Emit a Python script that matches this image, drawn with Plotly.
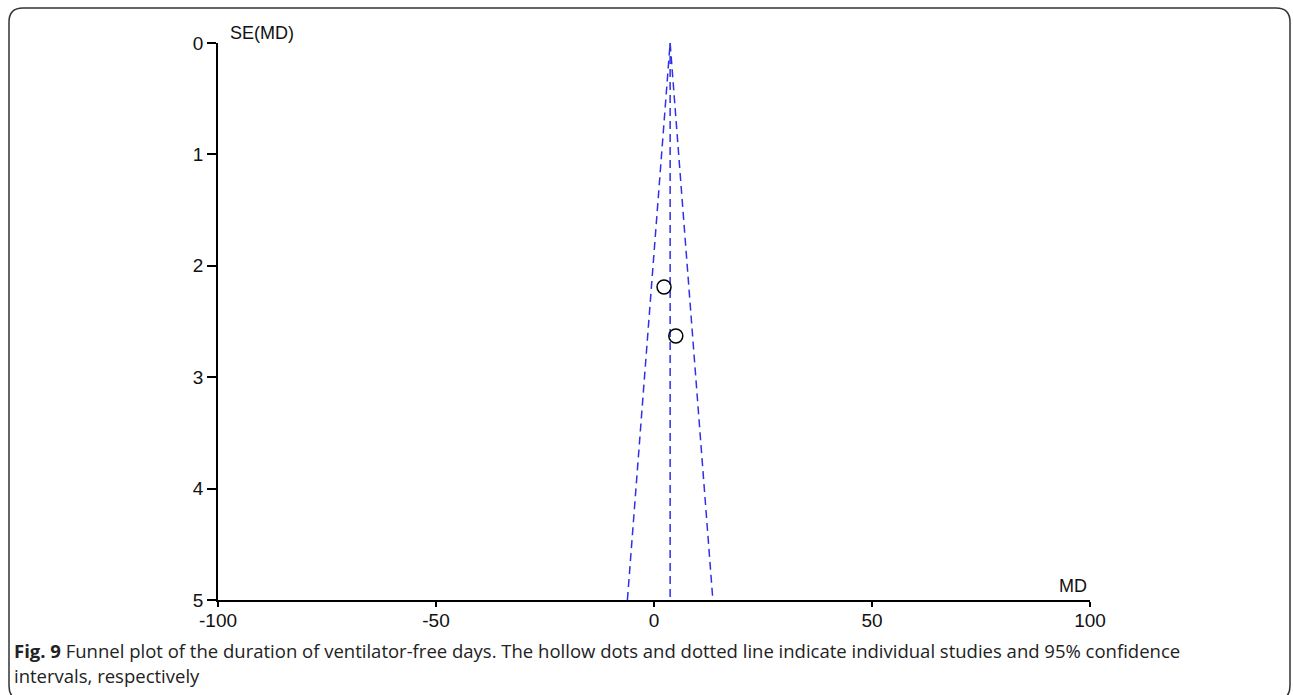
import plotly.graph_objects as go

# Data
study_md = [2.3, 5.0]
study_se = [2.19, 2.63]
pooled_md = 3.7
se_max = 5
x_ticks = [-100, -50, 0, 50, 100]
y_ticks = [0, 1, 2, 3, 4, 5]
caption_bold = "Fig. 9"
caption_1 = " Funnel plot of the duration of ventilator-free days. The hollow dots and dotted line indicate individual studies and 95% confidence"
caption_2 = "intervals, respectively"

W, H = 1293, 695
L, R, T, B = 218, 1090, 43, 600
pw, ph = R - L, B - T

def px(x):
    return (x - L) / pw

def py(y):
    return (B - y) / ph

fig = go.Figure()

blue = "#3030e8"
fig.add_trace(go.Scatter(
    x=[pooled_md - 1.96 * se_max, pooled_md, pooled_md + 1.96 * se_max],
    y=[se_max, 0, se_max], mode="lines",
    line=dict(color=blue, width=1.5, dash="8px,5px"), hoverinfo="skip", showlegend=False))
fig.add_trace(go.Scatter(
    x=[pooled_md, pooled_md], y=[0, se_max], mode="lines",
    line=dict(color=blue, width=1.5, dash="8px,5px"), hoverinfo="skip", showlegend=False))
fig.add_trace(go.Scatter(
    x=study_md, y=study_se, mode="markers",
    marker=dict(symbol="circle-open", size=14, color="black", line=dict(width=1.5, color="black")),
    showlegend=False))

tickfont = dict(family="Arial, Liberation Sans", size=19, color="#111")

fig.update_xaxes(range=[-100, 100], tickvals=x_ticks, ticktext=[str(v) for v in x_ticks],
                 showgrid=False, zeroline=False, showline=True, linecolor="black", linewidth=1.5,
                 ticks="outside", ticklen=5, tickwidth=1.5, tickcolor="black", tickfont=tickfont,
                 ticklabelstandoff=-3, fixedrange=True)
fig.update_yaxes(range=[5, 0], tickvals=y_ticks, ticktext=[str(v) for v in y_ticks],
                 showgrid=False, zeroline=False, showline=True, linecolor="black", linewidth=1.5,
                 ticks="outside", ticklen=9, tickwidth=1.5, tickcolor="black", tickfont=tickfont,
                 fixedrange=True)

# rounded border
x0, x1 = px(9), px(1290)
y0, y1 = py(700), py(8)
rx, ry = 14 / pw, 14 / ph
path = (f"M {x0+rx},{y1} L {x1-rx},{y1} Q {x1},{y1} {x1},{y1-ry} "
        f"L {x1},{y0+ry} Q {x1},{y0} {x1-rx},{y0} L {x0+rx},{y0} Q {x0},{y0} {x0},{y0+ry} "
        f"L {x0},{y1-ry} Q {x0},{y1} {x0+rx},{y1} Z")
fig.add_shape(type="path", xref="paper", yref="paper", path=path,
              line=dict(color="#333", width=1.5))

annotations = [
    dict(text="SE(MD)", x=px(228), y=py(33), xanchor="left", yanchor="middle",
         font=dict(family="Arial, Liberation Sans", size=18, color="#111")),
    dict(text="MD", x=px(1089), y=py(586), xanchor="right", yanchor="middle",
         font=dict(family="Arial, Liberation Sans", size=18, color="#111")),
    dict(text=f"<b>{caption_bold}</b>{caption_1}", x=px(12), y=py(650), xanchor="left", yanchor="middle",
         font=dict(family="Open Sans", size=18.5, color="#222")),
    dict(text=caption_2, x=px(12), y=py(675), xanchor="left", yanchor="middle",
         font=dict(family="Open Sans", size=18.5, color="#222")),
]
for a in annotations:
    a.update(xref="paper", yref="paper", showarrow=False)
fig.update_layout(annotations=annotations)

fig.update_layout(width=W, height=H, margin=dict(l=L, r=W - R, t=T, b=H - B, autoexpand=False),
                  plot_bgcolor="white", paper_bgcolor="white", showlegend=False)

fig.write_html("out.html", config={"displayModeBar": False},
               post_script="document.body.style.margin='0';document.body.style.overflow='hidden';")
